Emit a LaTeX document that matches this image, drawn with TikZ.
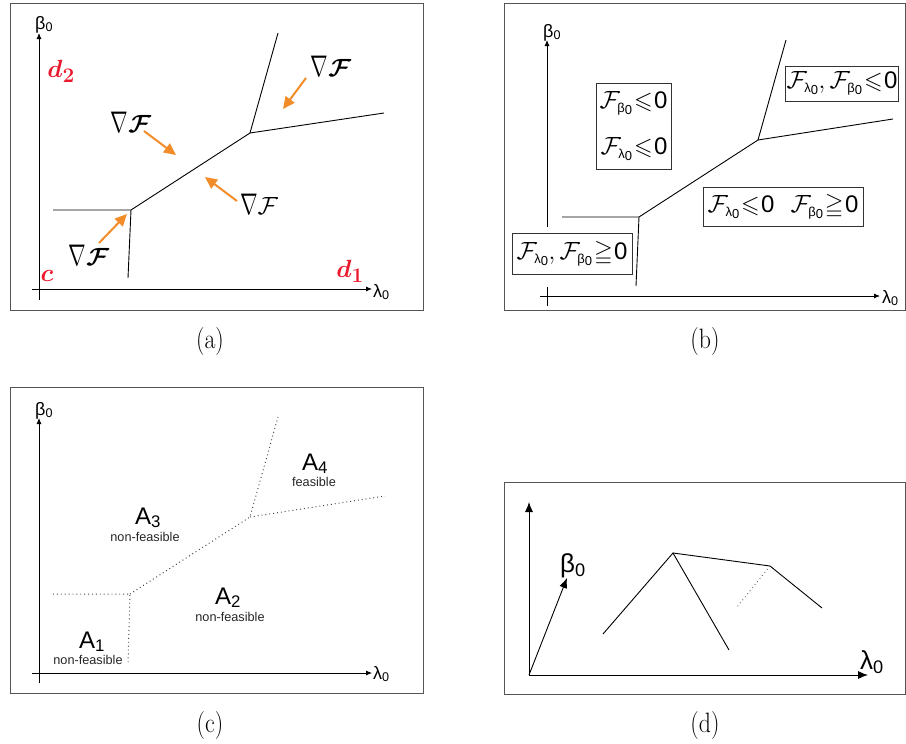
\documentclass[tikz,border=0pt]{standalone}
\usepackage{amsmath,amssymb,bm}
\usepackage{fontspec}
\newfontfamily\hel{Liberation Sans}
\usetikzlibrary{arrows.meta}
\definecolor{myorange}{RGB}{242,140,40}
\definecolor{myred}{RGB}{235,25,45}
\definecolor{frame}{RGB}{85,85,85}
\newcommand\Fsub[2]{\mathcal{F}_{\text{\fontsize{13}{14}\selectfont\hel #1\raisebox{-0.3ex}{#2}}}}
\newcommand\hz{\text{\hel 0}}
\newcommand\nab{\scalebox{0.85}[1.2]{$\nabla$}}
\begin{document}
\thickmuskip=1mu\relax
\begin{tikzpicture}[x=1pt,y=-1pt,
  panel/.style={draw=frame,line width=1pt},
  curve/.style={line width=0.9pt},
  dotcurve/.style={line width=1pt,dash pattern=on 0.9pt off 3pt,black!75},
  axis/.style={line width=0.8pt,-{Latex[length=6pt,width=5pt]}},
  bigaxis/.style={line width=0.9pt,-{Latex[length=10pt,width=8pt]}},
  grad/.style={myorange,line width=2pt,-{Triangle[length=12pt,width=11pt]}},
  lab/.style={font=\hel\fontsize{18}{20}\selectfont,inner sep=0pt,anchor=base west},
  nabl/.style={font=\fontsize{34}{38}\selectfont,inner sep=0pt},
  redl/.style={myred,font=\fontsize{28}{32}\selectfont,inner sep=0pt},
  cond/.style={draw=black!80,line width=0.8pt,font=\fontsize{24}{28}\selectfont,inner sep=1pt},
  areaA/.style={font=\hel\fontsize{24}{26}\selectfont,inner sep=0pt,anchor=base west},
  areat/.style={font=\hel\fontsize{12.7}{14}\selectfont,inner sep=0pt,anchor=base,black!85},
  capt/.style={font=\fontsize{28}{32}\selectfont,inner sep=0pt}]
\useasboundingbox (0,0) rectangle (906,744);

% ---------------- (a)
\draw[panel] (10,3) rectangle (423,310);
\coordinate (aY0) at (39,300); \coordinate (aY1) at (39,33);
\coordinate (aX0) at (32,289); \coordinate (aX1) at (372,289);
\draw[axis] (aY0) -- (aY1);
\draw[axis] (aX0) -- (aX1);
\node[lab] (aby) at (35,29) {β\textsubscript{0}};
\node[lab] (alx) at (373,297) {λ\textsubscript{0}};
\coordinate (aL) at (53,210); \coordinate (aP) at (131,210); \coordinate (aD) at (128,278);
\coordinate (aQ) at (250,133); \coordinate (aU) at (278,33); \coordinate (aR) at (384,113);
\draw[curve] (aL) -- (aP) -- (aD);
\draw[curve] (aP) -- (aQ) -- (aU);
\draw[curve] (aQ) -- (aR);
\node[nabl] (g1) at (131,122) {\nab$\bm{\mathcal{F}}$};
\node[nabl] (g2) at (331,66) {\nab$\bm{\mathcal{F}}$};
\node[nabl] (g3) at (259,204) {\nab$\mathcal{F}$};
\node[nabl] (g4) at (89,255) {\nab$\bm{\mathcal{F}}$};
\coordinate (a1s) at (144,131); \coordinate (a1e) at (176,155);
\coordinate (a2s) at (306,78);  \coordinate (a2e) at (283,109);
\coordinate (a3s) at (237,201); \coordinate (a3e) at (205,177);
\coordinate (a4s) at (99,243);  \coordinate (a4e) at (127,214);
\draw[grad] (a1s) -- (a1e);
\draw[grad] (a2s) -- (a2e);
\draw[grad] (a3s) -- (a3e);
\draw[grad] (a4s) -- (a4e);
\node[redl] (d2) at (61,71) {$\bm{d}_{\bm{2}}$};
\node[redl] (d1) at (350,271) {$\bm{d}_{\bm{1}}$};
\node[redl,font=\fontsize{34}{38}\selectfont] (cc) at (47,276) {$\bm{c}$};
\node[capt] (ca) at (210,342) {\scalebox{0.85}[1]{(a)}};

% ---------------- (b)
\draw[panel] (504,3) rectangle (905,310);
\coordinate (bY0) at (547,227); \coordinate (bY1) at (547,40);
\coordinate (bT0) at (547,287); \coordinate (bT1) at (547,306);
\coordinate (bX0) at (540,296); \coordinate (bX1) at (880,296);
\draw[axis] (bY0) -- (bY1);
\draw[line width=0.8pt] (bT0) -- (bT1);
\draw[axis] (bX0) -- (bX1);
\node[lab] (bby) at (543,37) {β\textsubscript{0}};
\node[lab] (blx) at (882,303) {λ\textsubscript{0}};
\coordinate (bL) at (562,217); \coordinate (bP) at (639,217); \coordinate (bD) at (636,286);
\coordinate (bQ) at (758,140); \coordinate (bU) at (786,40); \coordinate (bR) at (893,119);
\draw[curve] (bL) -- (bP) -- (bD);
\draw[curve] (bP) -- (bQ) -- (bU);
\draw[curve] (bQ) -- (bR);
\node[cond,minimum width=120pt,minimum height=41pt] (c1) at (572,253.5)
  {$\Fsub{λ}{0},\Fsub{β}{0}\geqq\hz$};
\node[cond,minimum width=75pt,minimum height=86pt,align=right,font=\fontsize{24}{46}\selectfont] (c2) at (633.5,126)
  {$\Fsub{β}{0}\leqslant\hz$\\$\Fsub{λ}{0}\leqslant\hz$};
\node[cond,minimum width=110pt,minimum height=35pt] (c3) at (842,83.5)
  {$\Fsub{λ}{0},\Fsub{β}{0}\leqslant\hz$};
\node[cond,minimum width=160pt,minimum height=39pt] (c4) at (783,206.5)
  {$\Fsub{λ}{0}\leqslant\hz$\hspace{16pt}$\Fsub{β}{0}\geqq\hz$};
\node[capt] (cb) at (705,342) {\scalebox{0.85}[1]{(b)}};

% ---------------- (c)
\draw[panel] (10,387) rectangle (423,693);
\coordinate (cY0) at (39,683); \coordinate (cY1) at (39,418);
\coordinate (cX0) at (32,673); \coordinate (cX1) at (372,673);
\draw[axis] (cY0) -- (cY1);
\draw[axis] (cX0) -- (cX1);
\node[lab] (cby) at (35,415) {β\textsubscript{0}};
\node[lab] (clx) at (373,679) {λ\textsubscript{0}};
\coordinate (cL) at (53,594); \coordinate (cP) at (130,594); \coordinate (cD) at (128,663);
\coordinate (cQ) at (250,517); \coordinate (cU) at (278,417); \coordinate (cR) at (385,496);
\draw[dotcurve] (cL) -- (cP) -- (cD);
\draw[dotcurve] (cP) -- (cQ) -- (cU);
\draw[dotcurve] (cQ) -- (cR);
\node[areaA] (A1) at (79,648) {A\textsubscript{1}};
\node[areat] (t1) at (88,664) {non-feasible};
\node[areaA] (A2) at (215,604) {A\textsubscript{2}};
\node[areat] (t2) at (230,621) {non-feasible};
\node[areaA] (A3) at (135,524) {A\textsubscript{3}};
\node[areat] (t3) at (145,541) {non-feasible};
\node[areaA] (A4) at (302,470) {A\textsubscript{4}};
\node[areat] (t4) at (314,486) {feasible};
\node[capt] (cc2) at (210,726) {\scalebox{0.85}[1]{(c)}};

% ---------------- (d)
\draw[panel] (504,482) rectangle (905,694);
\coordinate (dO) at (529,675); \coordinate (dY) at (529,502);
\coordinate (dX) at (868,675); \coordinate (dB) at (567,578);
\draw[bigaxis] (dO) -- (dY);
\draw[bigaxis] (dO) -- (dX);
\draw[bigaxis] (dO) -- (dB);
\node[lab,font=\hel\fontsize{26}{28}\selectfont] (dby) at (560,572) {β\textsubscript{0}};
\node[lab,font=\hel\fontsize{26}{28}\selectfont] (dlx) at (860,669) {λ\textsubscript{0}};
\coordinate (dA) at (603,634); \coordinate (dP1) at (673,553); \coordinate (dC) at (729,650);
\coordinate (dP2) at (770,566); \coordinate (dE) at (822,608); \coordinate (dF) at (737,607);
\draw[curve] (dA) -- (dP1) -- (dC);
\draw[curve] (dP1) -- (dP2) -- (dE);
\draw[dotcurve,black!55] (dP2) -- (dF);
\node[capt] (cd) at (705,726) {\scalebox{0.85}[1]{(d)}};
\end{tikzpicture}
\end{document}
